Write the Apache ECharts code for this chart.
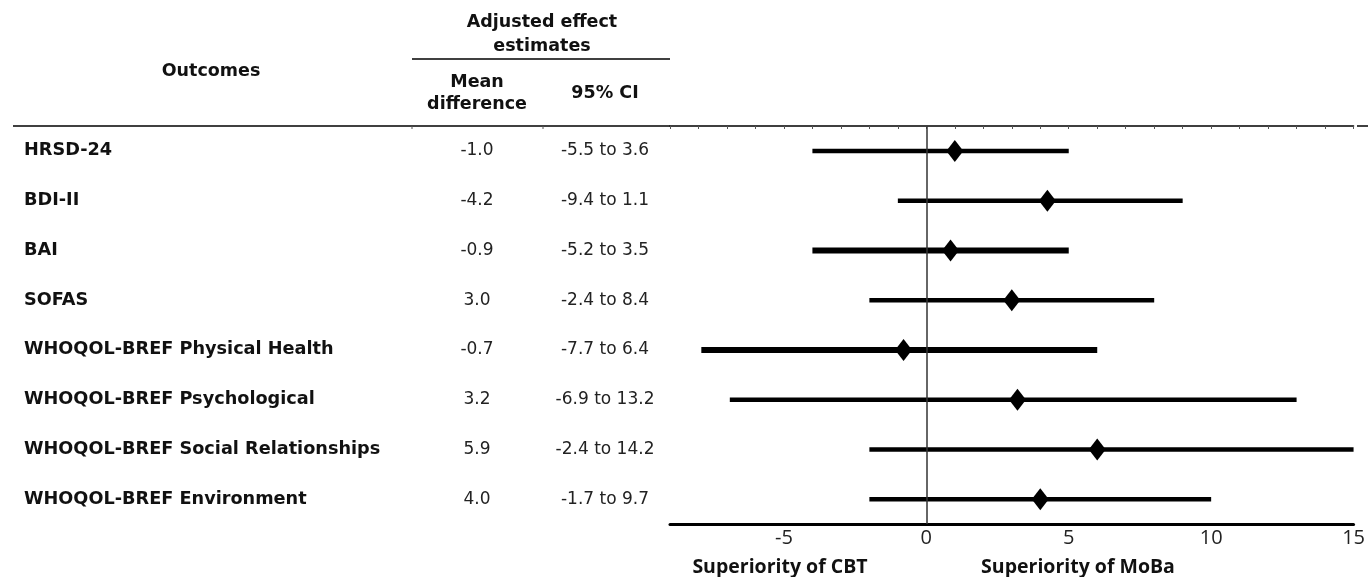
<!DOCTYPE html>
<html>
<head>
<meta charset="utf-8">
<script src="https://cdn.jsdelivr.net/npm/echarts@6/dist/echarts.min.js"></script>
<style>
html,body{margin:0;padding:0;background:#fff;}
#chart{width:1368px;height:577px;}
</style>
</head>
<body>
<div id="chart"></div>
<script>
// ---- data ----
const outcomes = [
  'HRSD-24', 'BDI-II', 'BAI', 'SOFAS',
  'WHOQOL-BREF Physical Health', 'WHOQOL-BREF Psychological',
  'WHOQOL-BREF Social Relationships', 'WHOQOL-BREF Environment'
];
// table values (as printed)
const meanDiff = [-1.0, -4.2, -0.9, 3.0, -0.7, 3.2, 5.9, 4.0];
const ciLower  = [-5.5, -9.4, -5.2, -2.4, -7.7, -6.9, -2.4, -1.7];
const ciUpper  = [ 3.6,  1.1,  3.5,  8.4,  6.4, 13.2, 14.2,  9.7];
// plotted values (as drawn in the forest plot)
const plotEst  = [1.0, 4.25, 0.85, 3.0, -0.8, 3.2, 6.0, 4.0];
const plotLow  = [-4.0, -1.0, -4.0, -2.0, -7.9, -6.9, -2.0, -2.0];
const plotHigh = [5.0, 9.0, 5.0, 8.0, 6.0, 13.0, 15.0, 10.0];
const axisTickLabels = [-5, 0, 5, 10, 15];

// ---- styles ----
const ciLineWidth = [4.5, 4.5, 6, 4.5, 6, 4.5, 4.5, 4.5];
const tableFont = 'DejaVu Sans';
const axisFont = 'Open Sans';

const chart = echarts.init(document.getElementById('chart'), null, {renderer: 'canvas'});

const ciData = outcomes.map((o, i) => [plotLow[i], plotHigh[i], i]);
const estData = outcomes.map((o, i) => [plotEst[i], i]);

const option = {
  animation: false,
  backgroundColor: '#fff',
  grid: {left: 670, right: 11, top: 126, bottom: 53, containLabel: false},
  xAxis: [
    {
      type: 'value', position: 'bottom', min: -9, max: 15, interval: 1,
      axisLine: {show: true, onZero: false, lineStyle: {color: '#000', width: 3}},
      axisTick: {show: false},
      splitLine: {show: false},
      axisLabel: {
        margin: 4, color: '#222', fontFamily: axisFont, fontSize: 20,
        formatter: v => axisTickLabels.indexOf(v) >= 0 ? String(v) : ''
      }
    },
    {
      type: 'value', position: 'top', min: -9, max: 15, interval: 1,
      axisLine: {show: true, onZero: false, lineStyle: {color: '#000', width: 1.5}},
      axisTick: {show: true, inside: true, length: 3, lineStyle: {color: '#555', width: 1}},
      splitLine: {show: false},
      axisLabel: {show: false}
    }
  ],
  yAxis: {
    type: 'category', inverse: true, data: outcomes,
    axisLine: {show: false}, axisTick: {show: false}, splitLine: {show: false},
    axisLabel: {
      margin: 2,
      formatter: (v, i) => '{n|' + v + '}{m|' + meanDiff[i].toFixed(1) + '}{c|' +
        ciLower[i].toFixed(1) + ' to ' + ciUpper[i].toFixed(1) + '}',
      rich: {
        n: {width: 388, align: 'left', fontFamily: tableFont, fontWeight: 'bold', fontSize: 17.7, color: '#111'},
        m: {width: 130, align: 'center', fontFamily: tableFont, fontSize: 17, color: '#222'},
        c: {width: 126, align: 'center', fontFamily: tableFont, fontSize: 17, color: '#222'}
      }
    }
  },
  series: [
    {
      type: 'custom',
      xAxisIndex: 0,
      data: ciData,
      encode: {x: [0, 1], y: 2},
      renderItem: function (params, api) {
        const p1 = api.coord([api.value(0), api.value(2)]);
        const p2 = api.coord([api.value(1), api.value(2)]);
        return {
          type: 'line',
          shape: {x1: p1[0], y1: p1[1], x2: p2[0], y2: p2[1]},
          style: {stroke: '#000', lineWidth: ciLineWidth[params.dataIndex], lineCap: 'butt'}
        };
      },
      z: 3
    },
    {
      type: 'scatter',
      xAxisIndex: 0,
      data: estData,
      symbol: 'diamond',
      symbolSize: [17, 22],
      itemStyle: {color: '#000', opacity: 1},
      z: 5,
      markLine: {
        silent: true, symbol: 'none', label: {show: false},
        lineStyle: {color: '#333', width: 1.5, type: 'solid'},
        data: [{xAxis: 0}]
      }
    }
  ],
  graphic: [
    {type: 'text', x: 542, y: 22, style: {text: 'Adjusted effect', font: 'bold 17.5px "DejaVu Sans"', fill: '#111', align: 'center', verticalAlign: 'middle'}},
    {type: 'text', x: 542, y: 46, style: {text: 'estimates', font: 'bold 17.5px "DejaVu Sans"', fill: '#111', align: 'center', verticalAlign: 'middle'}},
    {type: 'line', shape: {x1: 412, y1: 59, x2: 670, y2: 59}, style: {stroke: '#000', lineWidth: 1.5}},
    {type: 'text', x: 211, y: 71, style: {text: 'Outcomes', font: 'bold 17.5px "DejaVu Sans"', fill: '#111', align: 'center', verticalAlign: 'middle'}},
    {type: 'text', x: 477, y: 82, style: {text: 'Mean', font: 'bold 17.5px "DejaVu Sans"', fill: '#111', align: 'center', verticalAlign: 'middle'}},
    {type: 'text', x: 477, y: 104, style: {text: 'difference', font: 'bold 17.5px "DejaVu Sans"', fill: '#111', align: 'center', verticalAlign: 'middle'}},
    {type: 'text', x: 605, y: 93, style: {text: '95% CI', font: 'bold 17.5px "DejaVu Sans"', fill: '#111', align: 'center', verticalAlign: 'middle'}},
    {type: 'line', shape: {x1: 13, y1: 126, x2: 670, y2: 126}, style: {stroke: '#000', lineWidth: 1.5}},
    {type: 'line', shape: {x1: 1357, y1: 126, x2: 1368, y2: 126}, style: {stroke: '#000', lineWidth: 1.5}},
    {type: 'line', shape: {x1: 412, y1: 126, x2: 412, y2: 129}, style: {stroke: '#555', lineWidth: 1}},
    {type: 'line', shape: {x1: 543, y1: 126, x2: 543, y2: 129}, style: {stroke: '#555', lineWidth: 1}},
    {type: 'text', x: 780, y: 567, style: {text: 'Superiority of CBT', font: 'bold 19.5px "Open Sans"', fill: '#111', align: 'center', verticalAlign: 'middle'}},
    {type: 'text', x: 1078, y: 567, style: {text: 'Superiority of MoBa', font: 'bold 19.5px "Open Sans"', fill: '#111', align: 'center', verticalAlign: 'middle'}}
  ]
};
chart.setOption(option);
</script>
</body>
</html>
